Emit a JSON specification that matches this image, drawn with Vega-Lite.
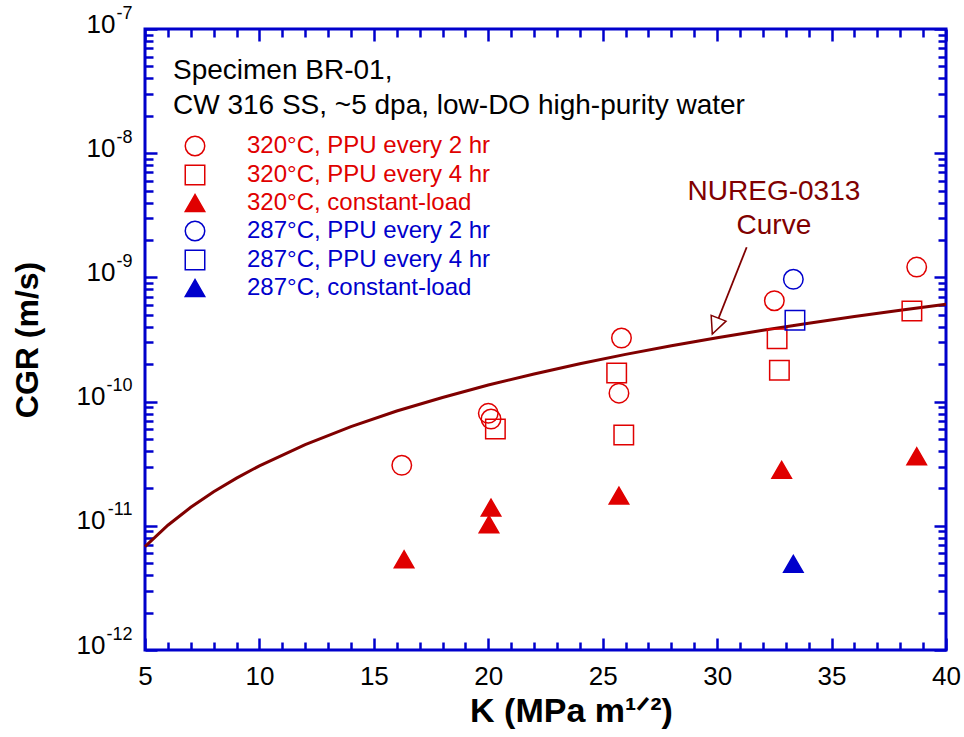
{
  "$schema": "https://vega.github.io/schema/vega-lite/v6.json",
  "width": 801,
  "height": 621,
  "autosize": {"type": "none"},
  "padding": {"left": 145, "top": 29, "right": 18, "bottom": 87},
  "background": "white",
  "config": {
    "view": {"stroke": "#0000CC", "strokeWidth": 3},
    "font": "Liberation Sans",
    "axis": {
      "grid": false, "domain": false, "tickColor": "#0000CC", "tickWidth": 2.5,
      "labelFont": "Liberation Sans", "labelFontSize": 26, "labelColor": "black",
      "titleFont": "Liberation Sans", "titleFontSize": 32, "titleFontWeight": "bold", "titleColor": "black",
      "labelOverlap": false, "labelFlush": false, "labelBound": false
    }
  },
  "datasets": {
    "curve": [
      {"K": 5, "CGR": 6.8e-12}, {"K": 6, "CGR": 1.01e-11}, {"K": 7, "CGR": 1.41e-11},
      {"K": 8, "CGR": 1.88e-11}, {"K": 9, "CGR": 2.42e-11}, {"K": 10, "CGR": 3.04e-11},
      {"K": 12, "CGR": 4.51e-11}, {"K": 14, "CGR": 6.29e-11}, {"K": 16, "CGR": 8.4e-11},
      {"K": 18, "CGR": 1.08e-10}, {"K": 20, "CGR": 1.36e-10}, {"K": 22, "CGR": 1.67e-10},
      {"K": 24, "CGR": 2.02e-10}, {"K": 26, "CGR": 2.4e-10}, {"K": 28, "CGR": 2.82e-10},
      {"K": 30, "CGR": 3.27e-10}, {"K": 32, "CGR": 3.76e-10}, {"K": 34, "CGR": 4.28e-10},
      {"K": 36, "CGR": 4.84e-10}, {"K": 38, "CGR": 5.45e-10}, {"K": 40, "CGR": 6.08e-10}
    ],
    "points": [
      {"K": 16.22, "CGR": 3.07e-11, "series": "320°C, PPU every 2 hr"},
      {"K": 20.0, "CGR": 8.05e-11, "series": "320°C, PPU every 2 hr"},
      {"K": 20.12, "CGR": 7.24e-11, "series": "320°C, PPU every 2 hr"},
      {"K": 25.82, "CGR": 3.25e-10, "series": "320°C, PPU every 2 hr"},
      {"K": 25.71, "CGR": 1.17e-10, "series": "320°C, PPU every 2 hr"},
      {"K": 32.5, "CGR": 6.49e-10, "series": "320°C, PPU every 2 hr"},
      {"K": 38.72, "CGR": 1.21e-9, "series": "320°C, PPU every 2 hr"},
      {"K": 20.31, "CGR": 6.01e-11, "series": "320°C, PPU every 4 hr"},
      {"K": 25.61, "CGR": 1.7e-10, "series": "320°C, PPU every 4 hr"},
      {"K": 25.92, "CGR": 5.38e-11, "series": "320°C, PPU every 4 hr"},
      {"K": 32.62, "CGR": 3.21e-10, "series": "320°C, PPU every 4 hr"},
      {"K": 32.72, "CGR": 1.79e-10, "series": "320°C, PPU every 4 hr"},
      {"K": 38.51, "CGR": 5.36e-10, "series": "320°C, PPU every 4 hr"},
      {"K": 16.32, "CGR": 5.38e-12, "series": "320°C, constant-load"},
      {"K": 20.12, "CGR": 1.4e-11, "series": "320°C, constant-load"},
      {"K": 20.03, "CGR": 1.03e-11, "series": "320°C, constant-load"},
      {"K": 25.71, "CGR": 1.75e-11, "series": "320°C, constant-load"},
      {"K": 32.82, "CGR": 2.82e-11, "series": "320°C, constant-load"},
      {"K": 38.72, "CGR": 3.63e-11, "series": "320°C, constant-load"},
      {"K": 33.33, "CGR": 9.66e-10, "series": "287°C, PPU every 2 hr"},
      {"K": 33.4, "CGR": 4.52e-10, "series": "287°C, PPU every 4 hr"},
      {"K": 33.33, "CGR": 4.94e-12, "series": "287°C, constant-load"}
    ],
    "arrow": [{"K1": 31.29, "C1": 1.75e-9, "K2": 29.79, "C2": 3.5e-10}],
    "arrowhead": [{"K": 29.79, "CGR": 3.5e-10}],
    "annot": [
      {"K": 32.48, "CGR": 4.9e-9, "label": "NUREG-0313"},
      {"K": 32.48, "CGR": 2.6e-9, "label": "Curve"}
    ]
  },
  "layer": [
    {
      "data": {"name": "curve"},
      "mark": {"type": "line", "color": "#800000", "strokeWidth": 3},
      "encoding": {
        "x": {
          "field": "K", "type": "quantitative",
          "scale": {"domain": [5, 40], "nice": false, "zero": false},
          "axis": {
            "orient": "bottom",
            "values": [5,6,7,8,9,10,11,12,13,14,15,16,17,18,19,20,21,22,23,24,25,26,27,28,29,30,31,32,33,34,35,36,37,38,39,40],
            "labelExpr": "datum.value % 5 == 0 ? datum.label : ''",
            "tickSize": {"condition": {"test": "datum.value % 5 == 0", "value": -12}, "value": -8},
            "labelPadding": 25,
            "title": "K (MPa m¹ᐟ²)",
            "titleFontSize": 34,
            "titleX": 426,
            "titlePadding": 1
          }
        },
        "y": {
          "field": "CGR", "type": "quantitative",
          "scale": {"type": "log", "domain": [1e-12, 1e-7], "nice": false},
          "axis": {
            "orient": "left",
            "values": [1e-12,2e-12,3e-12,4e-12,5e-12,6e-12,7e-12,8e-12,9e-12,1e-11,2e-11,3e-11,4e-11,5e-11,6e-11,7e-11,8e-11,9e-11,1e-10,2e-10,3e-10,4e-10,5e-10,6e-10,7e-10,8e-10,9e-10,1e-9,2e-9,3e-9,4e-9,5e-9,6e-9,7e-9,8e-9,9e-9,1e-8,2e-8,3e-8,4e-8,5e-8,6e-8,7e-8,8e-8,9e-8,1e-7],
            "labelExpr": "abs(log(datum.value)/LN10 - round(log(datum.value)/LN10)) > 0.01 ? '' : '10'",
            "tickSize": {"condition": {"test": "abs(log(datum.value)/LN10 - round(log(datum.value)/LN10)) < 0.01", "value": -12}, "value": -8},
            "labelPadding": {"condition": {"test": "datum.value > 5e-10", "value": 42}, "value": 52},
            "labelOffset": -5,
            "title": "CGR (m/s)",
            "titlePadding": 32
          }
        }
      }
    },
    {
      "data": {"name": "points"},
      "mark": {"type": "point", "size": 380, "strokeWidth": 1.5, "opacity": 1},
      "encoding": {
        "x": {
          "field": "K", "type": "quantitative",
          "scale": {"domain": [5, 40], "nice": false, "zero": false},
          "axis": {
            "orient": "top",
            "values": [5,6,7,8,9,10,11,12,13,14,15,16,17,18,19,20,21,22,23,24,25,26,27,28,29,30,31,32,33,34,35,36,37,38,39,40],
            "labels": false, "title": null,
            "tickSize": {"condition": {"test": "datum.value % 5 == 0", "value": -12}, "value": -8}
          }
        },
        "y": {
          "field": "CGR", "type": "quantitative",
          "scale": {"type": "log", "domain": [1e-12, 1e-7], "nice": false},
          "axis": {
            "orient": "right",
            "values": [1e-12,2e-12,3e-12,4e-12,5e-12,6e-12,7e-12,8e-12,9e-12,1e-11,2e-11,3e-11,4e-11,5e-11,6e-11,7e-11,8e-11,9e-11,1e-10,2e-10,3e-10,4e-10,5e-10,6e-10,7e-10,8e-10,9e-10,1e-9,2e-9,3e-9,4e-9,5e-9,6e-9,7e-9,8e-9,9e-9,1e-8,2e-8,3e-8,4e-8,5e-8,6e-8,7e-8,8e-8,9e-8,1e-7],
            "labelExpr": "abs(log(datum.value)/LN10 - round(log(datum.value)/LN10)) > 0.01 ? '' : '-' + toString(-round(log(datum.value)/LN10))",
            "labelFontSize": 18,
            "labelAlign": "right",
            "labelPadding": -802,
            "labelOffset": -16,
            "title": null,
            "tickSize": {"condition": {"test": "abs(log(datum.value)/LN10 - round(log(datum.value)/LN10)) < 0.01", "value": -12}, "value": -8}
          }
        },
        "shape": {
          "field": "series", "type": "nominal",
          "scale": {
            "domain": ["320°C, PPU every 2 hr", "320°C, PPU every 4 hr", "320°C, constant-load", "287°C, PPU every 2 hr", "287°C, PPU every 4 hr", "287°C, constant-load"],
            "range": ["circle", "square", "triangle-up", "circle", "square", "triangle-up"]
          },
          "legend": {
            "title": ["Specimen BR-01,", "CW 316 SS, ~5 dpa, low-DO high-purity water"],
            "orient": "none", "legendX": 28, "legendY": 28,
            "padding": 0,
            "titleFont": "Liberation Sans", "titleFontSize": 28, "titleFontWeight": "normal", "titleColor": "black",
            "titleLineHeight": 35, "titlePadding": 14, "titleLimit": 900, "titleAnchor": "start", "titleAlign": "left",
            "labelFont": "Liberation Sans", "labelFontSize": 24, "labelLimit": 600,
            "labelColor": {"expr": "indexof(datum.label, '320') == 0 ? '#E00000' : '#0000CC'"},
            "symbolSize": 380, "symbolStrokeWidth": 1.5, "symbolOffset": 10, "labelOffset": 40, "rowPadding": 3
          }
        },
        "stroke": {
          "field": "series", "type": "nominal",
          "scale": {
            "domain": ["320°C, PPU every 2 hr", "320°C, PPU every 4 hr", "320°C, constant-load", "287°C, PPU every 2 hr", "287°C, PPU every 4 hr", "287°C, constant-load"],
            "range": ["#E00000", "#E00000", "#E00000", "#0000CC", "#0000CC", "#0000CC"]
          }
        },
        "fill": {
          "field": "series", "type": "nominal",
          "scale": {
            "domain": ["320°C, PPU every 2 hr", "320°C, PPU every 4 hr", "320°C, constant-load", "287°C, PPU every 2 hr", "287°C, PPU every 4 hr", "287°C, constant-load"],
            "range": ["transparent", "transparent", "#E00000", "transparent", "transparent", "#0000CC"]
          }
        }
      }
    },
    {
      "data": {"name": "arrow"},
      "mark": {"type": "rule", "color": "#800000", "strokeWidth": 1.8},
      "encoding": {
        "x": {"field": "K1", "type": "quantitative", "axis": null},
        "y": {"field": "C1", "type": "quantitative", "scale": {"type": "log"}, "axis": null},
        "x2": {"field": "K2"},
        "y2": {"field": "C2"}
      }
    },
    {
      "data": {"name": "arrowhead"},
      "mark": {"type": "point", "shape": "M0,0L-0.47,1L0.47,1Z", "size": 1156, "angle": 201.6, "filled": true, "fill": "white", "stroke": "#800000", "strokeWidth": 1.5, "opacity": 1},
      "encoding": {
        "x": {"field": "K", "type": "quantitative", "axis": null},
        "y": {"field": "CGR", "type": "quantitative", "scale": {"type": "log"}, "axis": null}
      }
    },
    {
      "data": {"name": "annot"},
      "mark": {"type": "text", "fontSize": 28, "color": "#800000", "align": "center", "baseline": "middle", "font": "Liberation Sans"},
      "encoding": {
        "x": {"field": "K", "type": "quantitative", "axis": null},
        "y": {"field": "CGR", "type": "quantitative", "scale": {"type": "log"}, "axis": null},
        "text": {"field": "label"}
      }
    }
  ],
  "resolve": {"axis": {"x": "independent", "y": "independent"}}
}
